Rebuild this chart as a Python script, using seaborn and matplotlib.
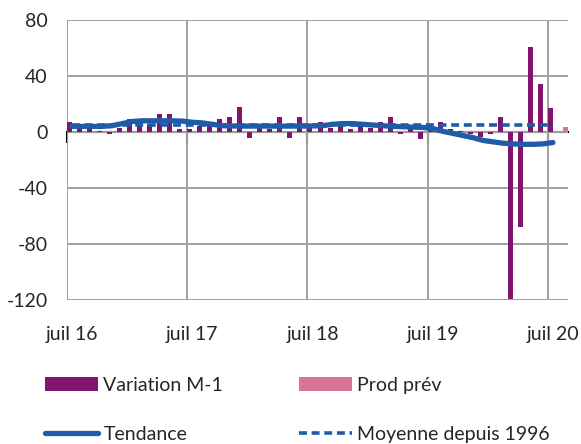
import numpy as np
import pandas as pd
import matplotlib.pyplot as plt
import seaborn as sns
from matplotlib.patches import Patch
from matplotlib.lines import Line2D

# mois de juil 16 a aout 20
mois = pd.date_range("2016-07-01", "2020-08-01", freq="MS")

variation = [7.5, 2, 2.5, 1, -1.5, 3, 9, 9, 6, 13, 13, 2,
             2.5, 4, 4, 9, 10.5, 18, -4, 3.5, 2, 10.5, -4, 10.5,
             3, 7.5, 3, 4, 2, 4, 3, 7.5, 10.5, -1.5, 2, -5,
             3, 7.5, 2, 1, -1.5, -3.5, -1.5, 10.5, -119, -67.5, 60.5, 34,
             17, np.nan]
prod_prev = [np.nan] * 49 + [3.8]
tendance = [4, 4, 4, 4, 4.5, 6, 7.5, 8, 8, 8, 8, 7.8,
            7, 6.5, 5.5, 4.5, 4.3, 4.2, 4.2, 4.2, 4.2, 4.2, 4.2, 4.2,
            4.3, 4.5, 5.5, 6, 6, 5.5, 5, 4.5, 4, 3.8, 3.5, 3.3,
            2.5, 0.5, -1, -2.5, -4, -6, -7, -8, -8.5, -8.8, -8.8, -8.5,
            -7.5, np.nan]
moyenne = [4.8] * 49 + [np.nan]

etiquettes = ["juil 16", "juil 17", "juil 18", "juil 19", "juil 20"]
y_ticks = [80, 40, 0, -40, -80, -120]

violet = "#80146e"
rose = "#d67598"
bleu = "#1f5ca8"
gris = "#a0a0a0"

sns.set_style("white")
plt.rcParams["font.family"] = ["Lato", "DejaVu Sans"]
plt.rcParams["font.size"] = 14
plt.rcParams["axes.unicode_minus"] = False

df = pd.DataFrame({"mois": mois, "variation": variation, "prod_prev": prod_prev,
                   "tendance": tendance, "moyenne": moyenne})
df["pos"] = np.arange(len(df))
df["centre"] = df["pos"] + 0.5

fig = plt.figure(figsize=(5.81, 4.44), dpi=100)
ax = fig.add_axes([67 / 581, 1 - 300 / 444, 501 / 581, 280 / 444])

ax.bar(df["pos"], df["variation"], width=0.5, align="edge", color=violet, lw=0, zorder=2)
ax.bar(df["pos"] + 0.5, df["prod_prev"], width=0.5, align="edge", color=rose, lw=0, zorder=2)
sns.lineplot(data=df, x="centre", y="tendance", ax=ax, color=bleu, lw=3.8,
             solid_capstyle="round", zorder=3)
sns.lineplot(data=df, x="centre", y="moyenne", ax=ax, color=bleu, lw=2.6,
             linestyle=(0, (2.2, 1.3)), zorder=4)

ax.set_xlim(0, 50)
ax.set_ylim(-120, 80)
ax.set_yticks(y_ticks)
annees = [0, 12, 24, 36, 48]
ax.set_xticks(annees)
ax.set_xticklabels([""] * len(annees))
ax.set_xticks([a + 0.5 for a in annees], etiquettes, minor=True)
ax.tick_params(axis="x", which="both", length=0, pad=19)
ax.tick_params(axis="y", length=5, width=1.4, color=gris, pad=9)
ax.grid(True, which="major", color=gris, lw=1.4)
ax.set_axisbelow(True)
ax.set_xlabel("")
ax.set_ylabel("")
for s in ax.spines.values():
    s.set_visible(False)

# axe des abscisses a zero
sec = ax.secondary_xaxis(0, transform=ax.transData)
sec.set_xticks(annees)
sec.set_xticklabels([""] * len(annees))
sec.tick_params(length=8, width=1.5, color="black", direction="out")
sec.spines["bottom"].set_linewidth(1.5)
sec.spines["bottom"].set_color("black")

handles = [Patch(color=violet, lw=0), Line2D([], [], color=bleu, lw=3.8, solid_capstyle="round"),
           Patch(color=rose, lw=0), Line2D([], [], color=bleu, lw=2.6, linestyle=(0, (2.2, 1.3)))]
labels = ["Variation M-1", "Tendance", "Prod prév", "Moyenne depuis 1996"]
fig.legend(handles, labels, ncol=2, loc="upper left", bbox_to_anchor=(45 / 581, 0.152),
           frameon=False, borderpad=0, borderaxespad=0, handlelength=2.7,
           handletextpad=0.3, columnspacing=3.9, labelspacing=1.65)

fig.savefig("out.png", dpi=100)
